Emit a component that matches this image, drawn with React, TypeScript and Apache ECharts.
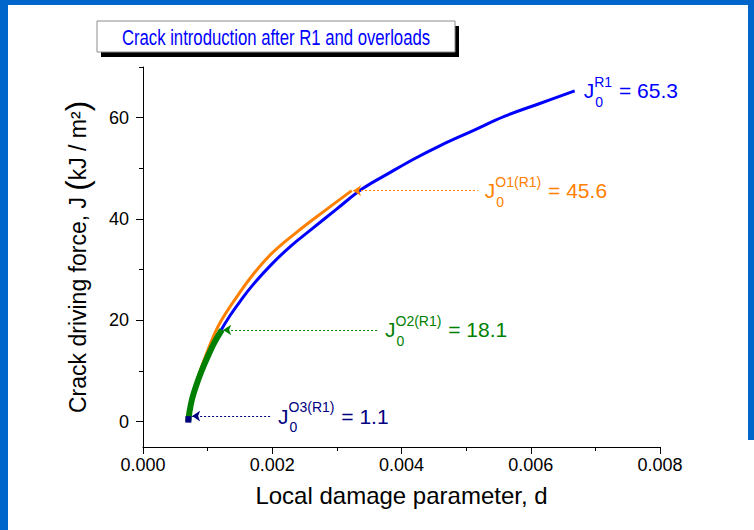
import React, { useEffect, useRef } from "react";
import * as echarts from "echarts";

// ---- data ----
const xTickLabels = ["0.000", "0.002", "0.004", "0.006", "0.008"];
const yLabelValues = [0, 20, 40, 60];
const yMinorValues = [10, 30, 50, 70];

const blueD = [0.0007, 0.00072, 0.00076, 0.00082, 0.0009, 0.001, 0.0011, 0.0012, 0.00135, 0.0015, 0.0017, 0.002, 0.0023, 0.0026, 0.003, 0.0034, 0.0038, 0.0042, 0.0046, 0.0051, 0.0056, 0.00614, 0.00668];
const blueJ = [0, 2.0, 4.5, 7.0, 9.8, 12.8, 15.5, 17.9, 21.0, 23.7, 27.0, 31.2, 34.8, 37.9, 42.0, 46.0, 49.0, 51.9, 54.5, 57.4, 60.3, 62.8, 65.3];

const orangeD = [0.0007, 0.00073, 0.00078, 0.00087, 0.001, 0.00115, 0.0013, 0.00146, 0.0017, 0.002, 0.00238, 0.00283, 0.00323];
const orangeJ = [0, 2.5, 5.5, 9.5, 14.0, 18.5, 21.8, 24.8, 29.0, 33.3, 37.4, 41.8, 45.6];

const greenD = [0.0007, 0.00072, 0.00076, 0.00082, 0.0009, 0.001, 0.0011, 0.00122];
const greenJ = [0, 2.0, 4.5, 7.0, 9.8, 12.8, 15.5, 18.1];

const navyD = [0.0007, 0.000705];
const navyJ = [-0.2, 1.1];

// annotations: J0^sup = value
const annotSup = ["R1", "O1(R1)", "O2(R1)", "O3(R1)"];
const annotValue = [65.3, 45.6, 18.1, 1.1];
const annotLabelD = [0.00682, 0.00529, 0.003745, 0.00209];
const annotArrowD = [null, 0.00325, 0.00124, 0.00076];
const annotLineEndD = [null, 0.00518, 0.00365, 0.00197];
const annotColor = ["#0000ff", "#ff8000", "#008000", "#000080"];

const FONT = '"Liberation Sans", Arial, sans-serif';

const pairs = (xs: number[], ys: number[]) => xs.map((x, i) => [x, ys[i]]);

function markLineFor(i: number) {
  if (annotArrowD[i] == null) return undefined;
  return {
    silent: true,
    symbol: ["arrow", "none"],
    symbolSize: 8,
    label: { show: false },
    emphasis: { disabled: true },
    lineStyle: { color: annotColor[i], width: 1, type: [2, 2] },
    data: [[{ coord: [annotArrowD[i], annotValue[i]] }, { coord: [annotLineEndD[i], annotValue[i]] }]],
  };
}

export default function App() {
  const ref = useRef<HTMLDivElement>(null);
  useEffect(() => {
    if (!ref.current) return;
    const chart = echarts.init(ref.current, undefined, { renderer: "svg" });
    const axisColor = "#000";
    const option: any = {
      animation: false,
      backgroundColor: "#ffffff",
      grid: { left: 143, right: 94, top: 67, bottom: 83 },
      xAxis: {
        type: "value",
        min: 0,
        max: 0.008,
        interval: 0.002,
        axisLine: { show: true, onZero: false, lineStyle: { color: axisColor, width: 1 } },
        axisTick: { show: true, length: 7, lineStyle: { color: axisColor } },
        minorTick: { show: true, splitNumber: 2, length: 4, lineStyle: { color: axisColor } },
        splitLine: { show: false },
        minorSplitLine: { show: false },
        axisLabel: {
          formatter: (v: number) => xTickLabels[Math.round(v / 0.002)] ?? v.toFixed(3),
          color: "#000",
          fontSize: 18,
          fontFamily: FONT,
          margin: 9,
        },
        name: "Local damage parameter, d",
        nameLocation: "middle",
        nameGap: 36,
        nameTextStyle: { fontSize: 24, color: "#000", fontFamily: FONT },
      },
      yAxis: [
        {
          type: "value",
          position: "left",
          min: -5,
          max: 70,
          axisLine: { show: true, onZero: false, lineStyle: { color: axisColor, width: 1 } },
          axisTick: { show: true, length: 7, customValues: yLabelValues, lineStyle: { color: axisColor } },
          axisLabel: { customValues: yLabelValues, color: "#000", fontSize: 18, fontFamily: FONT, margin: 14 },
          splitLine: { show: false },
          name: "Crack driving force, J {p|(}kJ / m²{p|)}",
          nameLocation: "middle",
          nameGap: 50,
          nameTextStyle: {
            fontSize: 23,
            color: "#000",
            fontFamily: FONT,
            rich: { p: { fontSize: 31, fontFamily: FONT, color: "#000" } },
          },
        },
        {
          type: "value",
          position: "left",
          offset: 0,
          min: -5,
          max: 70,
          axisLine: { show: false, onZero: false },
          axisTick: { show: true, length: 4, customValues: yMinorValues, lineStyle: { color: axisColor } },
          axisLabel: { show: false },
          splitLine: { show: false },
        },
      ],
      series: [
        {
          type: "line",
          data: pairs(blueD, blueJ),
          showSymbol: false,
          symbol: "none",
          silent: true,
          smooth: 0.4,
          lineStyle: { color: "#0000ff", width: 3 },
          z: 2,
        },
        {
          type: "line",
          data: pairs(orangeD, orangeJ),
          showSymbol: false,
          symbol: "none",
          silent: true,
          smooth: 0.4,
          lineStyle: { color: "#ff8000", width: 3 },
          markLine: markLineFor(1),
          z: 3,
        },
        {
          type: "line",
          data: pairs(greenD, greenJ),
          showSymbol: false,
          symbol: "none",
          silent: true,
          smooth: 0.4,
          lineStyle: { color: "#008000", width: 6 },
          markLine: markLineFor(2),
          z: 4,
        },
        {
          type: "line",
          data: pairs(navyD, navyJ),
          showSymbol: false,
          symbol: "none",
          silent: true,
          lineStyle: { color: "#000080", width: 6 },
          markLine: markLineFor(3),
          z: 5,
        },
      ],
    };
    chart.setOption(option);

    const canvas = document.createElement("canvas");
    const ctx = canvas.getContext("2d")!;
    const measure = (t: string, size: number) => {
      ctx.font = `${size}px ${FONT}`;
      return ctx.measureText(t).width;
    };

    const elements: any[] = [
      { type: "rect", shape: { x: 0, y: 0, width: 8, height: 530 }, style: { fill: "#0066cc" }, silent: true },
      { type: "rect", shape: { x: 0, y: 0, width: 754, height: 5 }, style: { fill: "#0066cc" }, silent: true },
      { type: "rect", shape: { x: 748, y: 0, width: 6, height: 440 }, style: { fill: "#0066cc" }, silent: true },
      { type: "rect", shape: { x: 101, y: 26, width: 358, height: 31 }, style: { fill: "#000" }, silent: true },
      { type: "rect", shape: { x: 97, y: 21, width: 358, height: 31 }, style: { fill: "#fff", stroke: "#8c8c8c", lineWidth: 1 }, silent: true },
      {
        type: "text",
        x: 276,
        y: 37,
        scaleX: 0.76,
        silent: true,
        style: {
          text: "Crack introduction after R1 and overloads",
          fill: "#0000ff",
          font: `22px ${FONT}`,
          textAlign: "center",
          textVerticalAlign: "middle",
          align: "center",
          verticalAlign: "middle",
        },
      },
    ];

    annotSup.forEach((sup, i) => {
      const p = chart.convertToPixel({ seriesIndex: 0 }, [annotLabelD[i], annotValue[i]]) as number[];
      if (!p) return;
      const [lx, ly] = p;
      const color = annotColor[i];
      const jw = measure("J", 21);
      const supW = measure(sup, 14);
      const base = { textVerticalAlign: "middle", verticalAlign: "middle", textAlign: "left", align: "left", fill: color };
      elements.push(
        { type: "text", x: lx, y: ly, silent: true, style: { ...base, text: "J", font: `21px ${FONT}` } },
        { type: "text", x: lx + jw, y: ly - 9, silent: true, style: { ...base, text: sup, font: `14px ${FONT}` } },
        { type: "text", x: lx + jw + 1, y: ly + 11, silent: true, style: { ...base, text: "0", font: `14px ${FONT}` } },
        {
          type: "text",
          x: lx + jw + supW + 1,
          y: ly,
          silent: true,
          style: { ...base, text: ` = ${annotValue[i].toFixed(1)}`, font: `21px ${FONT}` },
        }
      );
    });

    chart.setOption({ graphic: { elements } });

    return () => chart.dispose();
  }, []);
  return <div ref={ref} style={{ position: "fixed", left: 0, top: 0, width: 754, height: 530, background: "#fff" }} />;
}
